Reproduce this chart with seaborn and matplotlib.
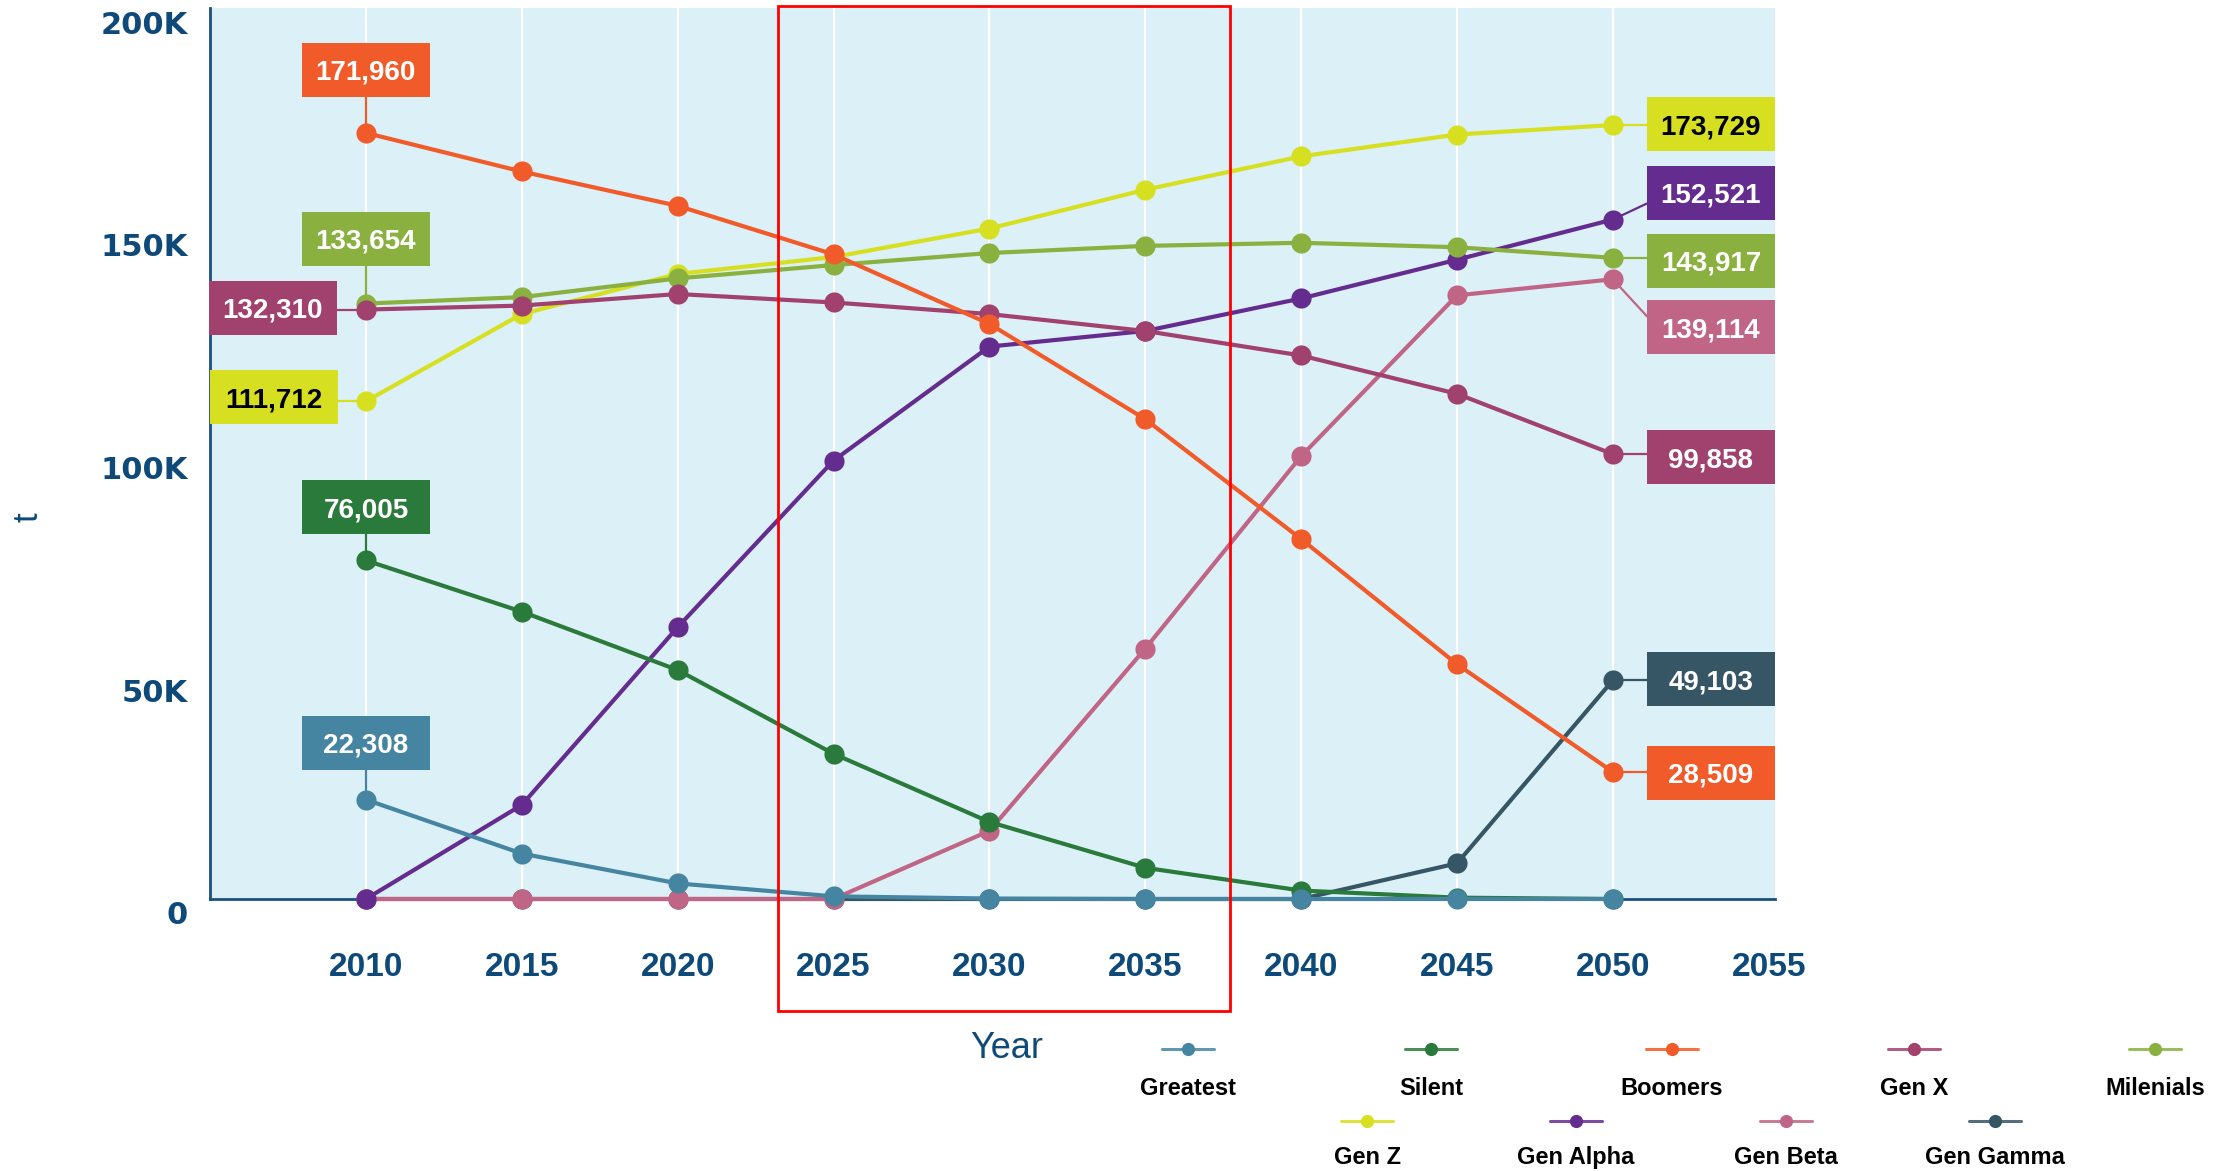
import numpy as np
import pandas as pd
import matplotlib
matplotlib.use("Agg")
import matplotlib.pyplot as plt
import matplotlib.transforms as mtransforms
from matplotlib.patches import Rectangle
from matplotlib.lines import Line2D
import seaborn as sns

# ---- data -----------------------------------------------------------------
years = [2010, 2015, 2020, 2025, 2030, 2035, 2040, 2045, 2050]
generations = ["Greatest", "Silent", "Boomers", "Gen X", "Milenials",
               "Gen Z", "Gen Alpha", "Gen Beta", "Gen Gamma"]

greatest = [22308, 10200, 3500, 600, 100, 0, 0, 0, 0]
silent = [76005, 64500, 51400, 32600, 17300, 7000, 1900, 300, 0]
boomers = [171960, 163300, 155600, 144700, 129100, 107700, 80800, 52700, 28509]
gen_x = [132310, 133200, 135800, 133900, 131300, 127500, 122000, 113400, 99858]
milenials = [133654, 135100, 139300, 142300, 145000, 146600, 147300, 146300, 143917]
gen_z = [111712, 131300, 140300, 144100, 150500, 159200, 166700, 171600, 173729]
gen_alpha = [0, 21100, 61000, 98400, 124000, 127500, 134800, 143500, 152521]
gen_beta = [0, 0, 0, 0, 15300, 56200, 99400, 135500, 139114]
gen_gamma = [0, 0, 0, 0, 0, 0, 0, 8000, 49103]

series = [greatest, silent, boomers, gen_x, milenials,
          gen_z, gen_alpha, gen_beta, gen_gamma]

x_ticks = [2010, 2015, 2020, 2025, 2030, 2035, 2040, 2045, 2050, 2055]
y_ticks = [0, 50000, 100000, 150000, 200000]
y_tick_labels = ["0", "50K", "100K", "150K", "200K"]

# ---- style ----------------------------------------------------------------
colors = ["#4585a2", "#2a7a3b", "#f15a29", "#a0416e", "#8ab040",
          "#d6e020", "#642c8f", "#c06585", "#365565"]
palette = dict(zip(generations, colors))
dark_text = {"Gen Z"}
axis_blue = "#0d4a7a"
spine_blue = "#1b4f7e"
bg_blue = "#dcf0f7"

sns.set_style("white")
plt.rcParams["font.family"] = ["Liberation Sans", "DejaVu Sans"]

W, H = 2227, 1171
fig = plt.figure(figsize=(W / 100, H / 100), dpi=100)
ax = fig.add_axes([210 / W, (H - 899) / H, (1775 - 210) / W, (899 - 8) / H])
ax.set_facecolor(bg_blue)

df = pd.DataFrame({
    "Year": np.tile(years, len(generations)),
    "Generation": np.repeat(generations, len(years)),
    "Value": np.concatenate(series),
})

# earlier generations are drawn last so they sit on top
sns.lineplot(data=df, x="Year", y="Value", hue="Generation",
             hue_order=generations[::-1], palette=palette,
             marker="o", markersize=14.5, markeredgewidth=0,
             linewidth=3.0, clip_on=False, legend=False, ax=ax, zorder=3)

ax.set_xlim(2005, 2055.2)
ax.set_ylim(0, 200000)
ax.set_xticks(x_ticks)
ax.set_xticklabels([str(v) for v in x_ticks])
ax.set_yticks(y_ticks)
ax.set_yticklabels(y_tick_labels)
ax.set_xlabel("")
ax.set_ylabel("")

for side in ["top", "right"]:
    ax.spines[side].set_visible(False)
for side in ["left", "bottom"]:
    ax.spines[side].set_color(spine_blue)
    ax.spines[side].set_linewidth(2)

ax.grid(axis="x", color="white", linewidth=1.6)
ax.grid(axis="y", visible=False)
ax.set_axisbelow(True)
ax.get_xgridlines()[-1].set_visible(False)

ax.tick_params(axis="x", direction="in", length=15.8, width=2,
               color=spine_blue, pad=38, labelsize=24, labelcolor=axis_blue)
ax.tick_params(axis="y", direction="in", length=26, width=2,
               color=spine_blue, pad=16, labelsize=22, labelcolor=axis_blue)
for lab in ax.get_xticklabels():
    lab.set_fontweight("bold")
shift = mtransforms.ScaledTranslation(0, -0.14, fig.dpi_scale_trans)
for lab in ax.get_yticklabels():
    lab.set_fontfamily("DejaVu Sans")
    lab.set_fontweight("bold")
    lab.set_transform(lab.get_transform() + shift)

fig.text(1007 / W, 1 - 1049 / H, "Year", ha="center", va="center",
         fontsize=26, color=axis_blue)
fig.text(28 / W, 1 - 517 / H, "t", ha="center", va="center", rotation=90,
         fontsize=25, color=axis_blue)

# ---- value call-outs at both ends of each line ----------------------------
ident = mtransforms.IdentityTransform()
box_w, box_h = 128, 54
start_offsets = {"Greatest": (0, 57), "Silent": (0, 53), "Boomers": (0, 63),
                 "Gen X": (-93, 2), "Milenials": (0, 65), "Gen Z": (-92, 4)}
end_offsets = {"Gen Z": (98, 1), "Gen Alpha": (98, 27), "Milenials": (98, -3),
               "Gen Beta": (98, -48), "Gen X": (98, -3), "Gen Gamma": (98, 1),
               "Boomers": (98, -1)}


def callout(name, x, value, offset):
    color = palette[name]
    px, py = ax.transData.transform((x, value))
    cx, cy = px + offset[0], py + offset[1]
    if offset[0] == 0:
        ex, ey = cx, cy - box_h / 2
    elif offset[0] < 0:
        ex, ey = cx + box_w / 2, cy + np.clip(py - cy, -11, 11)
    else:
        ex, ey = cx - box_w / 2, cy + np.clip(py - cy, -11, 11)
    ax.add_artist(Line2D([px, ex], [py, ey], transform=ident, color=color,
                         linewidth=1.6, clip_on=False, zorder=2.5))
    ax.add_artist(Rectangle((cx - box_w / 2, cy - box_h / 2), box_w, box_h,
                            transform=ident, facecolor=color, edgecolor="none",
                            clip_on=False, zorder=6))
    ax.text(cx, cy, f"{value:,}", transform=ident, ha="center",
            va="center_baseline", fontsize=20, fontweight="bold",
            color="black" if name in dark_text else "white",
            clip_on=False, zorder=7)


for name, vals in zip(generations, series):
    if name in start_offsets and vals[0] > 0:
        callout(name, years[0], vals[0], start_offsets[name])
    if name in end_offsets and vals[-1] > 0:
        callout(name, years[-1], vals[-1], end_offsets[name])

# ---- legend: two centred rows, marker above each name ---------------------
legend_rows = [
    (generations[:5], [1188, 1431, 1672, 1914, 2155], 1049, 1086),
    (generations[5:], [1367, 1576, 1786, 1995], 1121, 1155),
]
for names, xs, y_mark, y_text in legend_rows:
    for name, xc in zip(names, xs):
        c = palette[name]
        fig.add_artist(Line2D([xc - 26, xc + 26], [H - y_mark, H - y_mark],
                              transform=ident, color=c, linewidth=2.2,
                              alpha=0.85))
        fig.add_artist(Line2D([xc], [H - y_mark], transform=ident, color=c,
                              marker="o", markersize=9.5, markeredgewidth=0,
                              linestyle="none"))
        fig.text(xc / W, 1 - y_text / H, name, ha="center",
                 va="center_baseline", fontsize=17, fontweight="bold",
                 color="black")

# ---- highlight frame around 2025-2035 -------------------------------------
fig.add_artist(Rectangle((778, H - 1011), 452, 1005, transform=ident,
                         fill=False, edgecolor="#ff0000", linewidth=2))

fig.savefig("out.png", dpi=100)
